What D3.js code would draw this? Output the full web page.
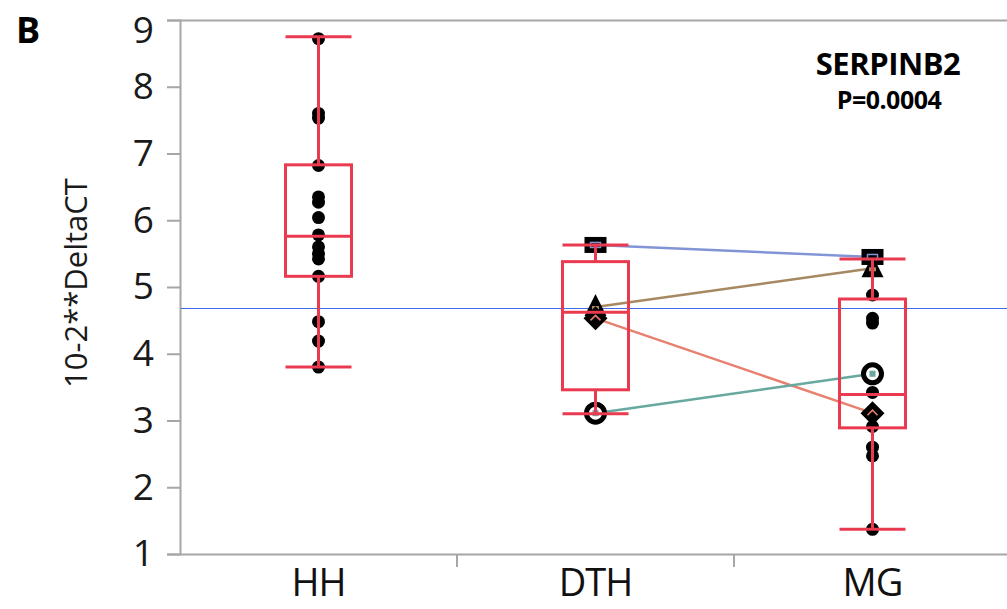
<!DOCTYPE html>
<html lang="en">
<head>
  <meta charset="UTF-8">
  <title>SERPINB2 - 10-2**DeltaCT</title>
  <script src="https://d3js.org/d3.v7.min.js"></script>
  <style>
    body { margin: 0; background: #fff; }
    svg { display: block; font-family: "Open Sans", "Noto Sans", sans-serif; }
  </style>
</head>
<body>
  <svg width="1007" height="609"></svg>

  <script>
    // groups and tick labels
    const categories = ["HH", "DTH", "MG"];
    const yTicks = [1, 2, 3, 4, 5, 6, 7, 8, 9];

    // plain dots (subjects without a pair)
    const hhDots = [8.72, 7.6, 7.53, 6.82, 6.35, 6.27, 6.04, 5.78, 5.6, 5.5, 5.42, 5.16, 4.48, 4.19, 3.8];
    const mgDots = [4.88, 4.53, 4.46, 3.42, 2.91, 2.6, 2.47, 1.37];

    // paired subjects, measured in DTH and MG
    const pairMarkers = ["square", "triangle", "diamond", "circle"];
    const pairDTH = [5.63, 4.7, 4.53, 3.11];
    const pairMG = [5.45, 5.28, 3.11, 3.7];
    const pairColors = ["#8194d6", "#a68862", "#e8806f", "#67a89f"];

    // box plot stats per group
    const boxLow = [3.8, 3.1, 1.37];
    const boxQ1 = [5.16, 3.46, 2.89];
    const boxMedian = [5.76, 4.62, 3.39];
    const boxQ3 = [6.83, 5.38, 4.82];
    const boxHigh = [8.75, 5.63, 5.42];

    const grandMean = 4.69;

    const svg = d3.select("svg");
    const red = "#ea3a50";
    const gray = "#a6a6a6";

    const y = d3.scaleLinear().domain([1, 9]).range([554, 20]);
    const x = d3.scaleBand().domain(categories).range([180, 1011]);
    const cx = c => x(c) + x.bandwidth() / 2;
    const boxW = 66;

    // frame: top line
    svg.append("line")
      .attr("x1", 180).attr("x2", 1007)
      .attr("y1", 20.5).attr("y2", 20.5)
      .attr("stroke", gray).attr("stroke-width", 2);

    // Y axis
    const yAxis = svg.append("g")
      .attr("transform", "translate(180,0)")
      .call(d3.axisLeft(y).tickValues(yTicks).tickSize(13).tickPadding(13).tickFormat(d3.format("d")));
    yAxis.select(".domain").attr("stroke", gray).attr("stroke-width", 2);
    yAxis.selectAll(".tick line").attr("stroke", gray).attr("stroke-width", 2);
    yAxis.selectAll("text")
      .attr("font-size", 37).attr("fill", "#1a1a1a")
      .style("font-family", "'Open Sans', sans-serif");
    // top label sits a little lower, as in the original
    yAxis.selectAll(".tick").filter(d => d === 9).select("text").attr("dy", "0.6em");

    // X axis with ticks between groups
    const xAxis = svg.append("g")
      .attr("transform", "translate(0,554)")
      .call(d3.axisBottom(x).tickSize(0).tickPadding(15));
    xAxis.select(".domain").attr("stroke", gray).attr("stroke-width", 2);
    xAxis.selectAll("text")
      .attr("font-size", 38).attr("fill", "#111")
      .style("font-family", "'Open Sans', sans-serif")
      .style("letter-spacing", "-1px");
    xAxis.selectAll(".sep")
      .data(categories.slice(1))
      .join("line")
      .attr("class", "sep")
      .attr("x1", d => x(d)).attr("x2", d => x(d))
      .attr("y1", 0).attr("y2", 13)
      .attr("stroke", gray).attr("stroke-width", 2);

    // grand mean reference line
    svg.append("line")
      .attr("x1", 181).attr("x2", 1007)
      .attr("y1", Math.round(y(grandMean)) + 0.5).attr("y2", Math.round(y(grandMean)) + 0.5)
      .attr("stroke", "#3f6be8").attr("stroke-width", 1.2);

    // lines joining paired subjects
    svg.selectAll(".pair")
      .data(pairDTH)
      .join("line")
      .attr("class", "pair")
      .attr("x1", cx("DTH")).attr("y1", d => y(d))
      .attr("x2", cx("MG")).attr("y2", (d, i) => y(pairMG[i]))
      .attr("stroke", (d, i) => pairColors[i])
      .attr("stroke-width", 2.5);

    // plain dots
    const dots = [
      ...hhDots.map(v => ({ c: "HH", v })),
      ...mgDots.map(v => ({ c: "MG", v }))
    ];
    svg.selectAll(".dot")
      .data(dots)
      .join("circle")
      .attr("class", "dot")
      .attr("cx", d => cx(d.c))
      .attr("cy", d => y(d.v))
      .attr("r", 6.5)
      .attr("fill", "#000");

    // paired markers
    function drawMarker(g, kind, px, py, color) {
      if (kind === "square") {
        g.append("rect").attr("x", px - 11).attr("y", py - 8).attr("width", 22).attr("height", 16).attr("fill", "#000");
        g.append("rect").attr("x", px - 5).attr("y", py - 2.5).attr("width", 10).attr("height", 5)
          .attr("fill", "none").attr("stroke", color).attr("stroke-width", 1.5);
      } else if (kind === "triangle") {
        g.append("path").attr("d", `M${px},${py - 13}L${px + 11},${py + 9}L${px - 11},${py + 9}Z`).attr("fill", "#000");
        g.append("rect").attr("x", px - 3.5).attr("y", py - 1).attr("width", 7).attr("height", 4).attr("fill", color);
      } else if (kind === "diamond") {
        g.append("path").attr("d", `M${px},${py - 12}L${px + 12},${py}L${px},${py + 12}L${px - 12},${py}Z`).attr("fill", "#000");
        g.append("path").attr("d", `M${px - 5},${py + 2}L${px},${py - 3}L${px + 5},${py + 2}`)
          .attr("fill", "none").attr("stroke", color).attr("stroke-width", 1.5);
      } else {
        g.append("circle").attr("cx", px).attr("cy", py).attr("r", 9).attr("fill", "#fff")
          .attr("stroke", "#000").attr("stroke-width", 5);
        g.append("rect").attr("x", px - 3).attr("y", py - 3).attr("width", 6).attr("height", 6).attr("fill", color);
      }
    }
    const markers = svg.append("g");
    pairMarkers.forEach((m, i) => {
      drawMarker(markers, m, cx("DTH"), y(pairDTH[i]), pairColors[i]);
      drawMarker(markers, m, cx("MG"), y(pairMG[i]), pairColors[i]);
    });

    // box plots
    const boxes = svg.append("g")
      .attr("fill", "none").attr("stroke", red).attr("stroke-width", 3);
    categories.forEach((c, i) => {
      const mx = cx(c);
      boxes.append("line").attr("x1", mx).attr("x2", mx).attr("y1", y(boxHigh[i])).attr("y2", y(boxQ3[i]));
      boxes.append("line").attr("x1", mx).attr("x2", mx).attr("y1", y(boxQ1[i])).attr("y2", y(boxLow[i]));
      boxes.append("line").attr("x1", mx - boxW / 2).attr("x2", mx + boxW / 2).attr("y1", y(boxHigh[i])).attr("y2", y(boxHigh[i]));
      boxes.append("line").attr("x1", mx - boxW / 2).attr("x2", mx + boxW / 2).attr("y1", y(boxLow[i])).attr("y2", y(boxLow[i]));
      boxes.append("rect")
        .attr("x", mx - boxW / 2).attr("y", y(boxQ3[i]))
        .attr("width", boxW).attr("height", y(boxQ1[i]) - y(boxQ3[i]));
      boxes.append("line").attr("x1", mx - boxW / 2).attr("x2", mx + boxW / 2).attr("y1", y(boxMedian[i])).attr("y2", y(boxMedian[i]));
    });

    // labels
    svg.append("text")
      .attr("transform", "translate(87,283) rotate(-90)")
      .attr("text-anchor", "middle")
      .attr("font-size", 31).attr("fill", "#1a1a1a")
      .text("10-2**DeltaCT");

    svg.append("text")
      .attr("x", 16).attr("y", 43)
      .attr("font-size", 36).attr("font-weight", "bold")
      .text("B");

    svg.append("text")
      .attr("x", 888).attr("y", 75)
      .attr("text-anchor", "middle")
      .attr("font-size", 31).attr("font-weight", "bold")
      .style("letter-spacing", "-0.5px")
      .text("SERPINB2");

    svg.append("text")
      .attr("x", 889).attr("y", 109)
      .attr("text-anchor", "middle")
      .attr("font-size", 25).attr("font-weight", "bold")
      .style("letter-spacing", "-0.5px")
      .text("P=0.0004");
  </script>
</body>
</html>
